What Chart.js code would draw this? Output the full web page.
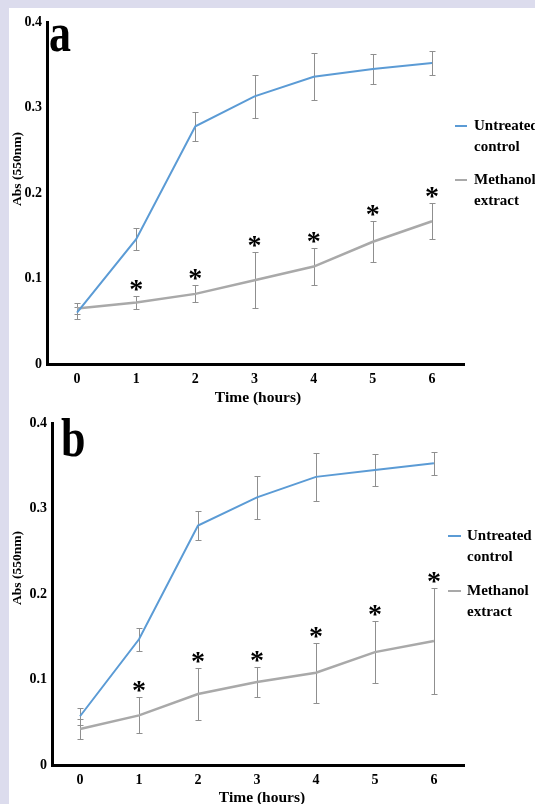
<!DOCTYPE html>
<html>
<head>
<meta charset="utf-8">
<script src="https://cdn.jsdelivr.net/npm/chart.js@4.4.1/dist/chart.umd.min.js"></script>
<style>
  html,body{margin:0;padding:0;}
  body{width:535px;height:804px;background:#dcdced;position:relative;overflow:hidden;font-family:'Liberation Serif','Times New Roman',serif;font-weight:bold;color:#000;}
  .sheet{position:absolute;left:9px;top:8px;right:0;bottom:0;background:#fff;}
  canvas{position:absolute;left:0;}
  .txt{position:absolute;white-space:nowrap;z-index:2;}
  .letter{font-size:44px;line-height:44px;transform:scaleY(1.25);transform-origin:0 0;}
  .ytitle{width:120px;height:16px;line-height:16px;font-size:13.5px;text-align:center;transform:rotate(-90deg);}
  .xtitle{width:140px;font-size:15.5px;line-height:18px;text-align:center;}
  .leg{font-size:15px;line-height:21px;}
  .swatch{position:absolute;height:2px;z-index:2;}
</style>
</head>
<body>
<div class="sheet"></div>
<canvas id="chartA" width="535" height="402" style="top:0"></canvas>
<canvas id="chartB" width="535" height="402" style="top:402px"></canvas>

<div class="txt letter" style="left:49px;top:6px">a</div>
<div class="txt letter" style="left:61px;top:411px">b</div>

<div class="txt ytitle" style="left:-43px;top:161px">Abs (550nm)</div>
<div class="txt ytitle" style="left:-43px;top:560px">Abs (550nm)</div>

<div class="txt xtitle" style="left:188px;top:388px">Time (hours)</div>
<div class="txt xtitle" style="left:192px;top:788px">Time (hours)</div>

<div class="swatch" style="left:455px;top:125px;width:12px;background:#5b9bd5"></div>
<div class="txt leg" style="left:474px;top:115px">Untreated<br>control</div>
<div class="swatch" style="left:455px;top:179px;width:12px;background:#a9a9a9"></div>
<div class="txt leg" style="left:474px;top:169px">Methanol<br>extract</div>

<div class="swatch" style="left:448px;top:535px;width:13px;background:#5b9bd5"></div>
<div class="txt leg" style="left:467px;top:525px">Untreated<br>control</div>
<div class="swatch" style="left:448px;top:590px;width:13px;background:#a9a9a9"></div>
<div class="txt leg" style="left:467px;top:580px">Methanol<br>extract</div>

<script>
const hours=[0,1,2,3,4,5,6];
const yTicks=[0,0.1,0.2,0.3,0.4];

// panel a
const controlA=[0.060,0.146,0.278,0.313,0.336,0.345,0.352];
const controlErrA=[0.007,0.0125,0.017,0.025,0.0275,0.018,0.014];
const extractA=[0.065,0.072,0.082,0.098,0.114,0.143,0.167];
const extractErrA=[0.006,0.008,0.010,0.033,0.022,0.024,0.021];

// panel b
const controlB=[0.057,0.147,0.280,0.313,0.337,0.345,0.353];
const controlErrB=[0.010,0.0135,0.017,0.025,0.028,0.019,0.0135];
const extractB=[0.042,0.058,0.083,0.097,0.108,0.132,0.145];
const extractErrB=[0.012,0.021,0.030,0.018,0.035,0.036,0.062];

// which time points carry a significance star (methanol extract)
const starMarks=[false,true,true,true,true,true,true];

const serif="'Liberation Serif','Times New Roman',serif";

const errorBars={
  id:'errorBars',
  beforeDatasetsDraw(chart){
    const {ctx,scales:{x,y}}=chart;
    ctx.save();
    ctx.strokeStyle='#8f8f8f';
    ctx.lineWidth=1;
    chart.data.datasets.forEach((ds)=>{
      ds.data.forEach((p,i)=>{
        const e=ds.errors[i];
        const px=Math.round(x.getPixelForValue(p.x))+0.5;
        const top=Math.round(y.getPixelForValue(p.y+e))+0.5;
        const bot=Math.round(y.getPixelForValue(p.y-e))+0.5;
        ctx.beginPath();
        ctx.moveTo(px,top); ctx.lineTo(px,bot);
        ctx.moveTo(px-3,top); ctx.lineTo(px+3,top);
        ctx.moveTo(px-3,bot); ctx.lineTo(px+3,bot);
        ctx.stroke();
      });
    });
    ctx.restore();
  },
  afterDatasetsDraw(chart){
    const {ctx,scales:{x,y}}=chart;
    ctx.save();
    ctx.fillStyle='#000';
    ctx.font='bold 28px '+serif;
    ctx.textAlign='center';
    ctx.textBaseline='alphabetic';
    chart.data.datasets.forEach((ds)=>{
      if(!ds.stars) return;
      ds.data.forEach((p,i)=>{
        if(!ds.stars[i]) return;
        const px=x.getPixelForValue(p.x);
        const top=y.getPixelForValue(p.y+ds.errors[i]);
        ctx.fillText('*',px,top-11+13);
      });
    });
    ctx.restore();
  }
};

function points(vals){
  return vals.map((v,i)=>({x:hours[i],y:v}));
}

function makeChart(id,cfg){
  const tickFont={family:serif,size:14,weight:'bold'};
  return new Chart(document.getElementById(id),{
    type:'line',
    data:{
      datasets:[{
        label:'Untreated control',
        data:points(cfg.control),
        errors:cfg.controlErr,
        borderColor:'#5b9bd5',
        borderWidth:2,
        pointRadius:0,
        tension:0
      },{
        label:'Methanol extract',
        data:points(cfg.extract),
        errors:cfg.extractErr,
        stars:starMarks,
        borderColor:'#a9a9a9',
        borderWidth:2.5,
        pointRadius:0,
        tension:0
      }]
    },
    options:{
      responsive:false,
      animation:false,
      events:[],
      layout:{padding:{left:0,top:cfg.top,right:71,bottom:0}},
      plugins:{legend:{display:false},tooltip:{enabled:false}},
      scales:{
        x:{
          type:'linear',
          min:cfg.xMin,
          max:cfg.xMax,
          afterBuildTicks:(s)=>{ s.ticks=hours.map((v)=>({value:v})); },
          afterFit:(s)=>{ s.height=cfg.xH; },
          grid:{display:false,drawTicks:false},
          border:{display:true,color:'#000',width:3},
          ticks:{color:'#000',font:tickFont,padding:7,callback:(v)=>String(v)}
        },
        y:{
          min:0,
          max:0.4,
          afterBuildTicks:(s)=>{ s.ticks=yTicks.map((v)=>({value:v})); },
          afterFit:(s)=>{ s.width=cfg.yW; },
          grid:{display:false,drawTicks:false},
          border:{display:true,color:'#000',width:3},
          ticks:{color:'#000',font:tickFont,padding:5,callback:(v)=> v===0?'0':Number(v).toFixed(1)}
        }
      }
    },
    plugins:[errorBars]
  });
}

makeChart('chartA',{
  control:controlA,controlErr:controlErrA,extract:extractA,extractErr:extractErrA,
  top:22,xH:38,yW:47,xMin:-0.507,xMax:6.54
});
makeChart('chartB',{
  control:controlB,controlErr:controlErrB,extract:extractB,extractErr:extractErrB,
  top:21,xH:39,yW:52,xMin:-0.475,xMax:6.51
});
</script>
</body>
</html>
